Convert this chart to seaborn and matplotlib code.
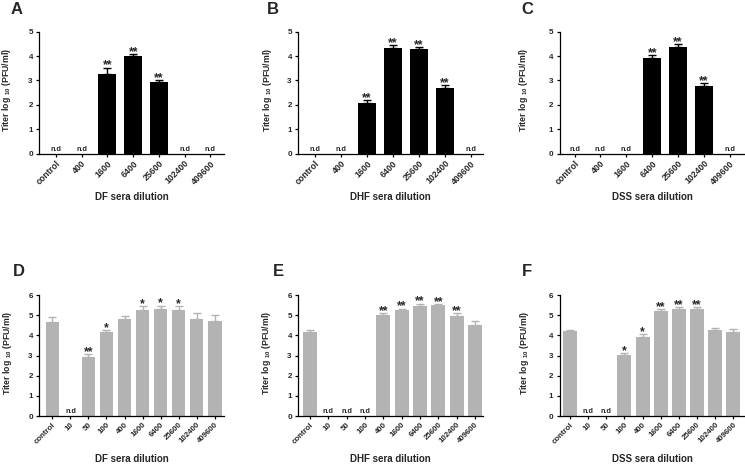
import matplotlib
matplotlib.use("Agg")
import matplotlib.pyplot as plt
import seaborn as sns
import numpy as np
import pandas as pd

# ---------------- data ----------------
top_categories = ["control", "400", "1600", "6400", "25600", "102400", "409600"]
bottom_categories = ["control", "10", "50", "100", "400", "1600", "6400", "25600", "102400", "409600"]

A_values = [0, 0, 3.26, 4.00, 2.92, 0, 0]
A_errors = [0, 0, 0.26, 0.07, 0.08, 0, 0]
A_stars = ["", "", "**", "**", "**", "", ""]

B_values = [0, 0, 2.09, 4.34, 4.29, 2.70, 0]
B_errors = [0, 0, 0.11, 0.10, 0.09, 0.10, 0]
B_stars = ["", "", "**", "**", "**", "**", ""]

C_values = [0, 0, 0, 3.94, 4.37, 2.79, 0]
C_errors = [0, 0, 0, 0.10, 0.11, 0.10, 0]
C_stars = ["", "", "", "**", "**", "**", ""]

D_values = [4.68, 0, 2.93, 4.18, 4.79, 5.24, 5.31, 5.26, 4.81, 4.71]
D_errors = [0.25, 0, 0.14, 0.08, 0.17, 0.21, 0.16, 0.19, 0.28, 0.28]
D_stars = ["", "", "**", "*", "", "*", "*", "*", "", ""]

E_values = [4.17, 0, 0, 0, 5.01, 5.26, 5.45, 5.50, 4.96, 4.50]
E_errors = [0.11, 0, 0, 0, 0.08, 0.06, 0.12, 0.05, 0.13, 0.23]
E_stars = ["", "", "", "", "**", "**", "**", "**", "**", ""]

F_values = [4.20, 0, 0, 3.02, 3.90, 5.22, 5.31, 5.31, 4.26, 4.18]
F_errors = [0.08, 0, 0, 0.10, 0.15, 0.09, 0.08, 0.08, 0.09, 0.15]
F_stars = ["", "", "", "*", "*", "**", "**", "**", "", ""]

xlabels = ["DF sera dilution", "DHF sera dilution", "DSS sera dilution",
           "DF sera dilution", "DHF sera dilution", "DSS sera dilution"]
panel_letters = ["A", "B", "C", "D", "E", "F"]

# ---------------- style ----------------
sns.set_style("ticks")
plt.rcParams["font.family"] = ["Liberation Sans", "DejaVu Sans"]
plt.rcParams["font.weight"] = "bold"
plt.rcParams["axes.labelweight"] = "bold"
plt.rcParams["mathtext.fontset"] = "custom"
plt.rcParams["mathtext.bf"] = "Liberation Sans:bold"
plt.rcParams["mathtext.rm"] = "Liberation Sans:bold"
plt.rcParams["mathtext.default"] = "bf"

BLACK = "#000000"
GRAY = "#b3b3b3"

fig = plt.figure(figsize=(7.45, 4.65), dpi=100)
W, H = 745.0, 465.0

col_left = [39.3, 298.3, 560.0]
col_width = 185.0
row_top = [31.7, 295.0]
row_bottom = [153.7, 416.0]

panels = [
    (top_categories, A_values, A_errors, A_stars, BLACK, 0.70, (-0.65, 6.54), 5, -0.140, 0, 0, 6.3),
    (top_categories, B_values, B_errors, B_stars, BLACK, 0.70, (-0.64, 6.47), 5, -0.134, 0, 1, 6.3),
    (top_categories, C_values, C_errors, C_stars, BLACK, 0.70, (-0.56, 6.58), 5, -0.162, 0, 2, 6.3),
    (bottom_categories, D_values, D_errors, D_stars, GRAY, 0.77, (-0.73, 9.54), 6, -0.139, 1, 0, 5.7),
    (bottom_categories, E_values, E_errors, E_stars, GRAY, 0.77, (-0.64, 9.45), 6, -0.137, 1, 1, 5.7),
    (bottom_categories, F_values, F_errors, F_stars, GRAY, 0.77, (-0.55, 9.64), 6, -0.155, 1, 2, 5.7),
]

letter_pos = [(17, 10), (273, 10), (527, 10), (19, 272), (278, 272), (527, 272)]

for k, (cats, vals, errs, stars, col, bw, xlim, ymax, ylab_x, r, c, xfs) in enumerate(panels):
    left = col_left[c] / W
    bottom = (H - row_bottom[r]) / H
    height = (row_bottom[r] - row_top[r]) / H
    ax = fig.add_axes([left, bottom, col_width / W, height])

    df = pd.DataFrame({"dilution": cats, "titer": vals})
    sns.barplot(data=df, x="dilution", y="titer", order=cats, color=col,
                saturation=1, width=bw, errorbar=None, linewidth=0, ax=ax)

    vals_a = np.array(vals, dtype=float)
    errs_a = np.array(errs, dtype=float)
    pos = np.arange(len(cats))
    m = vals_a > 0
    ax.errorbar(pos[m], vals_a[m], yerr=[np.zeros(m.sum()), errs_a[m]],
                fmt="none", ecolor=col, elinewidth=1.0, capsize=2.6, capthick=1.0)

    for i in range(len(cats)):
        if vals_a[i] == 0:
            ax.annotate("n.d", (pos[i], 0), xytext=(0, 2.0), textcoords="offset points",
                        ha="center", va="baseline", fontsize=5.2, fontweight="bold")
        elif stars[i]:
            ax.annotate(stars[i], (pos[i], vals_a[i] + errs_a[i]), xytext=(0, -0.6),
                        textcoords="offset points", ha="center", va="baseline",
                        fontsize=8.8, fontweight="bold")

    ax.set_xlim(*xlim)
    ax.set_ylim(0, ymax)
    ax.set_yticks(range(0, ymax + 1))
    sns.despine(ax=ax)
    for s in ["left", "bottom"]:
        ax.spines[s].set_linewidth(0.9)
        ax.spines[s].set_color("black")
    ax.tick_params(axis="both", length=2.2, width=0.9, color="black", pad=2.5, labelsize=5.8)
    ax.tick_params(axis="x", pad=1.5)
    for lab in ax.get_yticklabels():
        lab.set_fontweight("bold")
    ax.set_xticks(pos)
    ax.set_xticklabels(cats, rotation=45, ha="right", va="top", rotation_mode="anchor",
                       fontsize=xfs, fontweight="bold")

    ax.set_xlabel(xlabels[k], fontsize=7, fontweight="bold")
    ax.xaxis.set_label_coords(0.5, -0.31)
    ax.set_ylabel("Titer log $_{10}$ (PFU/ml)", fontsize=6.3, fontweight="bold")
    ax.yaxis.set_label_coords(ylab_x, 0.52)

    lx, ly = letter_pos[k]
    fig.text(lx / W, 1 - ly / H, panel_letters[k], fontsize=12, fontweight="bold",
             ha="center", va="center")

fig.savefig("out.png", dpi=100)
